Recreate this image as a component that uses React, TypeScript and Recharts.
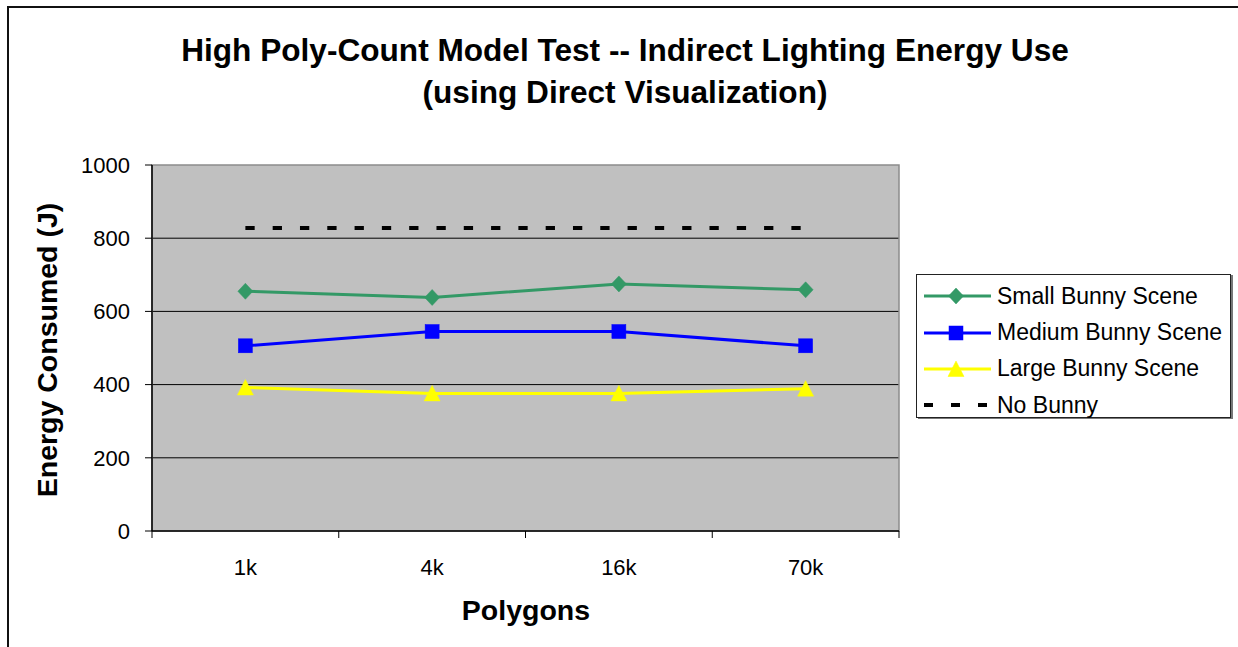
import React from 'react';
import { LineChart, Line, XAxis, YAxis, CartesianGrid, Legend, ReferenceArea } from 'recharts';

const categories = ['1k', '4k', '16k', '70k'];
const smallBunny = [655, 638, 675, 659];
const mediumBunny = [506, 545, 545, 506];
const largeBunny = [392, 376, 376, 389];
const noBunny = [828, 828, 828, 828];
const yTicks = [0, 200, 400, 600, 800, 1000];
const gridValues = [200, 400, 600, 800];
const boundaryTicks = [0, 1, 2, 3, 4];
const centerTicks = [0.5, 1.5, 2.5, 3.5];

const data = categories.map((c, i) => ({
  cat: c,
  pos: i + 0.5,
  small: smallBunny[i],
  medium: mediumBunny[i],
  large: largeBunny[i],
  none: noBunny[i],
}));

const FONT = '"Liberation Sans", Arial, Helvetica, sans-serif';
const GREEN = '#339966';
const BLUE = '#0000FF';
const YELLOW = '#FFFF00';

const Diamond = ({ cx, cy, color }: any) => (
  <polygon points={`${cx},${cy - 8} ${cx + 7.5},${cy} ${cx},${cy + 8} ${cx - 7.5},${cy}`} fill={color} stroke={color} strokeWidth={0.5} />
);
const Square = ({ cx, cy, color }: any) => (
  <rect x={cx - 7} y={cy - 7} width={14} height={14} fill={color} stroke={color} strokeWidth={0.5} />
);
const Triangle = ({ cx, cy, color }: any) => (
  <polygon points={`${cx},${cy - 8} ${cx + 8},${cy + 7.5} ${cx - 8},${cy + 7.5}`} fill={color} stroke={color} strokeWidth={0.5} />
);

const legendItems = [
  { key: 'small', name: 'Small Bunny Scene', color: GREEN, marker: 'diamond' },
  { key: 'medium', name: 'Medium Bunny Scene', color: BLUE, marker: 'square' },
  { key: 'large', name: 'Large Bunny Scene', color: YELLOW, marker: 'triangle' },
  { key: 'none', name: 'No Bunny', color: '#000000', marker: 'dash' },
];

const LegendBox = () => (
  <div
    style={{
      border: '1px solid #222',
      boxShadow: '2px 1px 0 #777',
      background: '#fff',
      width: 315,
      height: 144,
      boxSizing: 'border-box',
      paddingTop: 3,
      paddingLeft: 7,
      fontFamily: FONT,
      fontSize: 23,
      color: '#000',
    }}
  >
    {legendItems.map((it) => (
      <div key={it.key} style={{ display: 'flex', alignItems: 'center', height: 36.4 }}>
        <svg width={67} height={20} style={{ display: 'block' }}>
          {it.marker === 'dash' ? (
            <line x1={0} y1={10} x2={67} y2={10} stroke="#000" strokeWidth={4} strokeDasharray="9 18" />
          ) : (
            <line x1={0} y1={10} x2={67} y2={10} stroke={it.color} strokeWidth={3} />
          )}
          {it.marker === 'diamond' && <Diamond cx={32} cy={10} color={it.color} />}
          {it.marker === 'square' && <Square cx={32} cy={10} color={it.color} />}
          {it.marker === 'triangle' && <Triangle cx={32} cy={10} color={it.color} />}
        </svg>
        <span style={{ marginLeft: 6, lineHeight: '23px' }}>{it.name}</span>
      </div>
    ))}
  </div>
);

export default function App() {
  return (
    <div style={{ position: 'fixed', left: 0, top: 0, width: 1238, height: 647, overflow: 'hidden', background: '#fff' }}>
      <div
        style={{
          position: 'absolute',
          left: 7,
          top: 6,
          width: 1400,
          height: 800,
          borderLeft: '2px solid #111',
          borderTop: '2px solid #111',
        }}
      />
      <div
        style={{
          position: 'absolute',
          left: 0,
          top: 29,
          width: 1250,
          textAlign: 'center',
          fontFamily: FONT,
          fontWeight: 'bold',
          fontSize: 31.6,
          lineHeight: '42px',
          color: '#000',
        }}
      >
        <div>High Poly-Count Model Test -- Indirect Lighting Energy Use</div>
        <div>(using Direct Visualization)</div>
      </div>
      <div style={{ position: 'absolute', left: 0, top: 0 }}>
        <LineChart
          width={1238}
          height={647}
          data={data}
          margin={{ top: 165, right: 339, left: 0, bottom: 56 }}
        >
          <CartesianGrid
            xAxisId="a"
            yAxisId="y"
            vertical={false}
            horizontalValues={gridValues}
            stroke="#000"
            strokeWidth={1}
            fill="#C0C0C0"
            fillOpacity={1}
          />
          <ReferenceArea
            xAxisId="a"
            yAxisId="y"
            x1={0}
            x2={4}
            y1={0}
            y2={1000}
            fill="none"
            stroke="#8c8c8c"
            strokeWidth={1.5}
            ifOverflow="visible"
          />
          <XAxis
            xAxisId="a"
            dataKey="pos"
            type="number"
            domain={[0, 4]}
            ticks={boundaryTicks}
            tickFormatter={() => ''}
            tickSize={7}
            height={10}
            axisLine={{ stroke: '#000', strokeWidth: 1.5 }}
            tickLine={{ stroke: '#000', strokeWidth: 1 }}
          />
          <XAxis
            xAxisId="b"
            dataKey="pos"
            type="number"
            domain={[0, 4]}
            ticks={centerTicks}
            tickFormatter={(v: number) => categories[Math.floor(v)]}
            axisLine={false}
            tickLine={false}
            tickSize={0}
            tickMargin={18}
            height={50}
            tick={{ fill: '#000', fontSize: 22, fontFamily: FONT }}
            label={{
              content: () => (
                <text x={526} y={620} textAnchor="middle" fontFamily={FONT} fontWeight="bold" fontSize={28.5} fill="#000">
                  Polygons
                </text>
              ),
            }}
          />
          <YAxis
            yAxisId="y"
            type="number"
            domain={[0, 1000]}
            ticks={yTicks}
            width={152}
            tickSize={7}
            tickMargin={15}
            axisLine={{ stroke: '#000', strokeWidth: 1.5 }}
            tickLine={{ stroke: '#000', strokeWidth: 1 }}
            tick={{ fill: '#000', fontSize: 22, fontFamily: FONT }}
            label={{
              content: () => (
                <text
                  x={56.5}
                  y={350}
                  transform="rotate(-90 56.5 350)"
                  textAnchor="middle"
                  fontFamily={FONT}
                  fontWeight="bold"
                  fontSize={28.5}
                  fill="#000"
                >
                  Energy Consumed (J)
                </text>
              ),
            }}
          />
          <Line
            xAxisId="a"
            yAxisId="y"
            dataKey="none"
            name="No Bunny"
            stroke="#000"
            strokeWidth={4}
            strokeDasharray="9.3 18"
            dot={false}
            activeDot={false}
            isAnimationActive={false}
          />
          <Line
            xAxisId="a"
            yAxisId="y"
            dataKey="large"
            name="Large Bunny Scene"
            stroke={YELLOW}
            strokeWidth={3}
            dot={(p: any) => <Triangle key={`t${p.index}`} cx={p.cx} cy={p.cy} color={YELLOW} />}
            activeDot={false}
            isAnimationActive={false}
          />
          <Line
            xAxisId="a"
            yAxisId="y"
            dataKey="medium"
            name="Medium Bunny Scene"
            stroke={BLUE}
            strokeWidth={3}
            dot={(p: any) => <Square key={`s${p.index}`} cx={p.cx} cy={p.cy} color={BLUE} />}
            activeDot={false}
            isAnimationActive={false}
          />
          <Line
            xAxisId="a"
            yAxisId="y"
            dataKey="small"
            name="Small Bunny Scene"
            stroke={GREEN}
            strokeWidth={3}
            dot={(p: any) => <Diamond key={`d${p.index}`} cx={p.cx} cy={p.cy} color={GREEN} />}
            activeDot={false}
            isAnimationActive={false}
          />
          <Legend
            layout="horizontal"
            verticalAlign="middle"
            align="center"
            content={() => <LegendBox />}
            wrapperStyle={{ left: 916, top: 274, width: 'auto', height: 'auto' }}
          />
        </LineChart>
      </div>
    </div>
  );
}
